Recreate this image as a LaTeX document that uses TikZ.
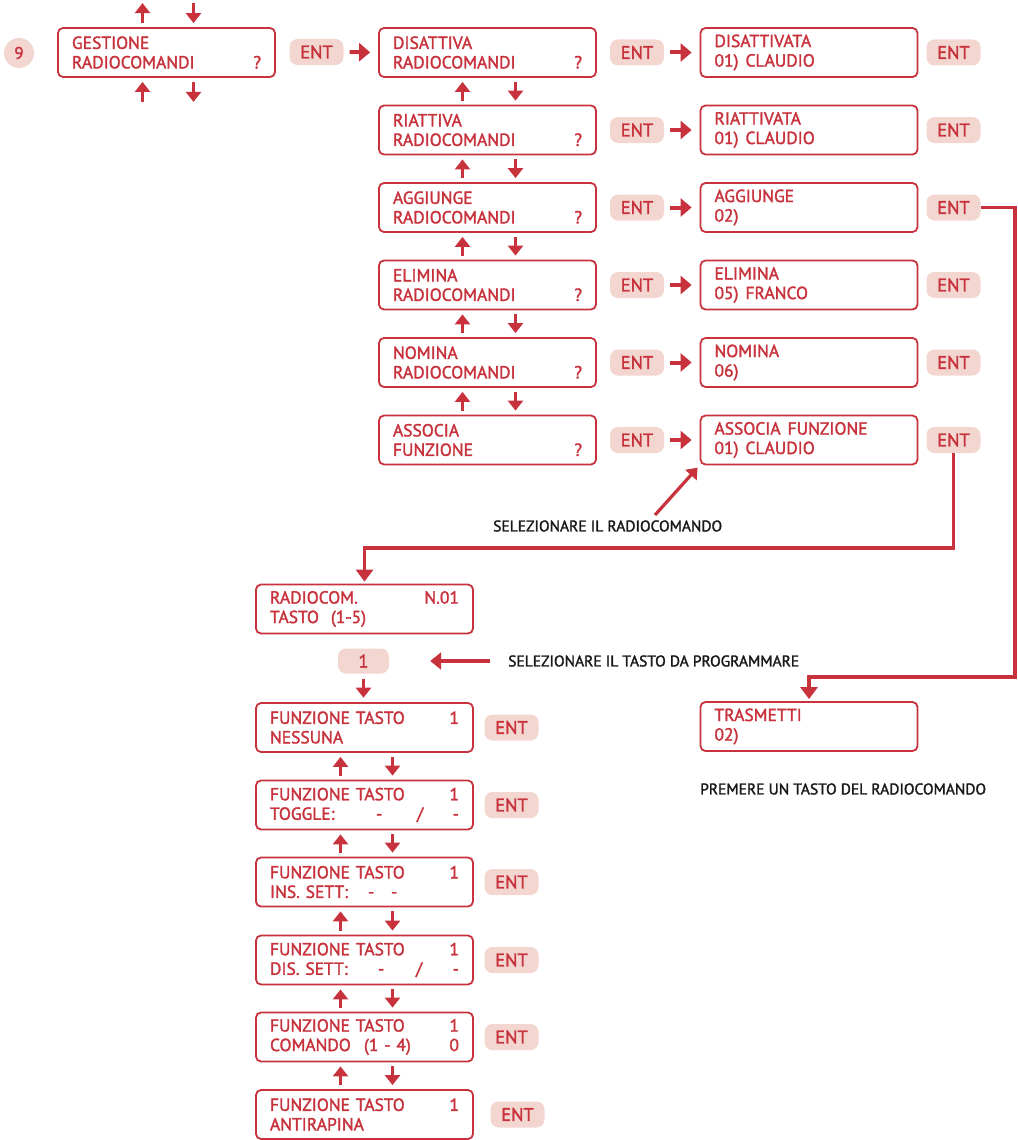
\documentclass[tikz,border=0pt]{standalone}
\usepackage{fontspec}
\setmainfont{PT Sans}[FakeBold=1.8]
\usetikzlibrary{arrows.meta,calc}
\definecolor{rosso}{HTML}{C8323C}
\definecolor{rosa}{HTML}{F3D6D0}
\newcommand{\dspc}{\hspace{7pt}}

\begin{document}
\begin{tikzpicture}[x=1pt,y=-1pt]
\tikzstyle{menu}=[draw=rosso, line width=1.8pt, rounded corners=5pt, text=rosso,
	text width=189pt, inner xsep=14pt, inner ysep=0pt, minimum height=49pt, align=left,
	font=\fontsize{17.5}{19.5}\selectfont]
\tikzstyle{tasto}=[fill=rosa, rounded corners=8pt, text=rosso, minimum width=54pt,
	minimum height=26pt, inner sep=0pt, font=\fontsize{18.5}{18.5}\selectfont]
\tikzstyle{nota}=[text=black!90, inner sep=0pt, font=\fontsize{15.5}{17}\selectfont]
\tikzstyle{freccia}=[rosso, line width=3.2pt, -{Triangle[width=15pt,length=10pt]}]
\tikzstyle{avanti}=[rosso, line width=4pt, -{Triangle[width=18pt,length=11pt]},
	shorten <=6pt, shorten >=8pt]
\tikzstyle{link}=[rosso, line width=3.5pt, -{Triangle[width=17pt,length=12pt]}]
\useasboundingbox (0,0) rectangle (1017,1140);

\node[circle, fill=rosa, minimum size=30pt, inner sep=0pt, text=rosso,
	font=\fontsize{17}{17}\selectfont] (nove) at (19,53) {9};
\node[menu] (gest) at (166.5,52.5) {GESTIONE\\RADIOCOMANDI\hfill?};
\node[tasto] (ent0) at (316.5,52) {ENT};
\draw[freccia, shorten <=4pt] ([xshift=-24pt]gest.north) -- ($(gest.north)+(-24,-24)$);
\draw[freccia, shorten >=4pt] ($(gest.north)+(27,-24)$) -- ([xshift=27pt]gest.north);
\draw[freccia, shorten >=4pt] ($(gest.south)+(-24,24)$) -- ([xshift=-24pt]gest.south);
\draw[freccia, shorten <=4pt] ([xshift=27pt]gest.south) -- ($(gest.south)+(27,24)$);

\foreach \i/\y/\voce/\sub/\conf in {
	1/52.5/DISATTIVA/RADIOCOMANDI/DISATTIVATA\\01)\dspc CLAUDIO,
	2/130/RIATTIVA/RADIOCOMANDI/RIATTIVATA\\01)\dspc CLAUDIO,
	3/207.5/AGGIUNGE/RADIOCOMANDI/AGGIUNGE\\02),
	4/285/ELIMINA/RADIOCOMANDI/ELIMINA\\05)\dspc FRANCO,
	5/362.5/NOMINA/RADIOCOMANDI/NOMINA\\06),
	6/440/ASSOCIA/FUNZIONE/ASSOCIA\dspc FUNZIONE\\01)\dspc CLAUDIO}
{
	\node[menu] (m\i) at (487.5,\y) {\voce\\\sub\hfill?};
	\node[tasto] (ea\i) at (637,\y) {ENT};
	\node[menu] (d\i) at (809,\y) {\conf};
	\node[tasto] (eb\i) at (953.5,\y) {ENT};
	\draw[avanti] (ea\i.east) -- (d\i.west);
}
\draw[avanti] (ent0.east) -- (m1.west);
\foreach \i [evaluate=\i as \j using int(\i+1)] in {1,...,5} {
	\draw[freccia, shorten <=4pt, shorten >=4pt] ([xshift=-25pt]m\j.north) -- ([xshift=-25pt]m\i.south);
	\draw[freccia, shorten <=4pt, shorten >=4pt] ([xshift=28pt]m\i.south) -- ([xshift=28pt]m\j.north);
}

\node[nota, anchor=west] (selRadio) at (493,526) {SELEZIONARE IL RADIOCOMANDO};
\draw[freccia, shorten >=3pt] (655,515) -- (d6.south west);

\node[menu] (radio) at (364.5,609) {RADIOCOM.\hfill N.01\\TASTO\hspace{12pt}(1-5)};
\coordinate (giroB) at (364.5,548);
\draw[link, shorten >=2pt] (eb6.south) |- (giroB) -- (radio.north);

\node[tasto, minimum width=51pt, minimum height=25pt] (uno) at (363.5,661) {1};
\node[nota, anchor=west] (selTasto) at (508,661) {SELEZIONARE IL TASTO DA PROGRAMMARE};
\draw[rosso, line width=4pt, -{Triangle[width=17pt,length=11pt]}, shorten <=18pt, shorten >=41pt]
	(selTasto.west) -- (uno.east);
\draw[freccia, shorten <=5pt, shorten >=5pt] (uno.south) -- ($(uno.south)+(0,29)$);

\node[menu] (f1) at (364.5,727.5) {FUNZIONE TASTO\hfill 1\\NESSUNA};
\node[menu] (f2) at (364.5,805) {FUNZIONE TASTO\hfill 1\\\makebox[106pt][l]{TOGGLE:}\makebox[41pt][l]{-}/\hfill-};
\node[menu] (f3) at (364.5,882) {FUNZIONE TASTO\hfill 1\\\makebox[98pt][l]{INS.\ SETT:}\makebox[23pt][l]{-}-};
\node[menu] (f4) at (364.5,960) {FUNZIONE TASTO\hfill 1\\\makebox[108pt][l]{DIS.\ SETT:}\makebox[38pt][l]{-}/\hfill-};
\node[menu] (f5) at (364.5,1037) {FUNZIONE TASTO\hfill 1\\\makebox[94pt][l]{COMANDO}(1 - 4)\hfill 0};
\node[menu] (f6) at (364.5,1114.5) {FUNZIONE TASTO\hfill 1\\ANTIRAPINA};
\foreach \i/\dx in {1/147,2/147,3/147,4/147,5/147,6/153}
	\node[tasto] (g\i) at ([xshift=\dx pt]f\i.center) {ENT};
\foreach \i [evaluate=\i as \j using int(\i+1)] in {1,...,5} {
	\draw[freccia, shorten <=4pt, shorten >=4pt] ([xshift=-24pt]f\j.north) -- ([xshift=-24pt]f\i.south);
	\draw[freccia, shorten <=4pt, shorten >=4pt] ([xshift=28pt]f\i.south) -- ([xshift=28pt]f\j.north);
}

\node[menu] (trasm) at (809,726.5) {TRASMETTI\\02)};
\node[nota, anchor=west] (premi) at (700,789) {PREMERE UN TASTO DEL RADIOCOMANDO};
\coordinate (giroA) at (1015,677);
\draw[link, shorten >=2pt] (eb3.east) -| (giroA) -| (trasm.north);
\end{tikzpicture}
\end{document}
